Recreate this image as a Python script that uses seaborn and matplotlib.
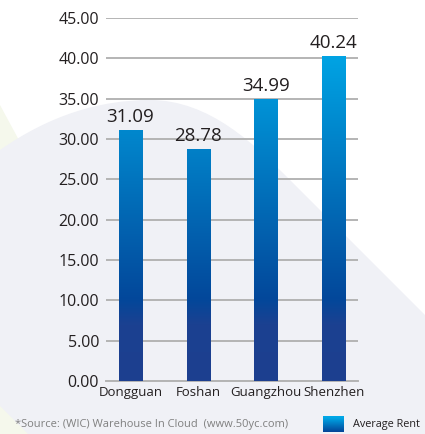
import numpy as np
import pandas as pd
import matplotlib
matplotlib.use("Agg")
import matplotlib.pyplot as plt
import seaborn as sns
from matplotlib.colors import LinearSegmentedColormap
from matplotlib.path import Path
from matplotlib.patches import PathPatch, Polygon

# Data
cities = ["Dongguan", "Foshan", "Guangzhou", "Shenzhen"]
rents = [31.09, 28.78, 34.99, 40.24]
y_ticks = [0, 5, 10, 15, 20, 25, 30, 35, 40, 45]
series_name = "Average Rent"
source_note = "*Source: (WIC) Warehouse In Cloud  (www.50yc.com)"

sns.set_theme(style="white")
plt.rcParams["font.family"] = ["Open Sans", "DejaVu Sans"]

W, H = 425, 434
fig = plt.figure(figsize=(W / 100, H / 100), dpi=100)
fig.patch.set_facecolor("white")

# Decorative background shapes, drawn in pixel space
bg = fig.add_axes([0, 0, 1, 1], zorder=-5)
bg.set_xlim(0, W)
bg.set_ylim(H, 0)
bg.axis("off")
verts = [(0, 150), (50, 115), (100, 100), (150, 100),
         (210, 100), (255, 145), (290, 180),
         (425, 315), (425, 434), (0, 434), (0, 150)]
codes = [Path.MOVETO, Path.CURVE4, Path.CURVE4, Path.CURVE4,
         Path.CURVE4, Path.CURVE4, Path.CURVE4,
         Path.LINETO, Path.LINETO, Path.LINETO, Path.CLOSEPOLY]
bg.add_patch(Polygon([(0, 105), (20, 142), (0, 165)], closed=True,
                     facecolor="#F5F8EC", edgecolor="none"))
bg.add_patch(PathPatch(Path(verts, codes), facecolor="#F0F1F6", edgecolor="none"))
bg.add_patch(Polygon([(0, 406), (28, 434), (0, 434)], closed=True,
                     facecolor="#F5F8EC", edgecolor="none"))

# Main chart
ax = fig.add_axes([106 / W, 1 - 381 / H, (358 - 106) / W, (381 - 18) / H])
ax.set_facecolor("none")
df = pd.DataFrame({"City": cities, "Rent": rents})
sns.barplot(data=df, x="City", y="Rent", width=0.34, color="#0066B2",
            ax=ax, zorder=3)

# Vertical gradient fill shared by all bars (value based)
ymax = 45.0
stops = [(0.0, "#1D3F8F"), (7 / ymax, "#1B4191"), (10 / ymax, "#03479A"),
         (40.5 / ymax, "#00A4E4"), (1.0, "#00A8E8")]
cmap = LinearSegmentedColormap.from_list("rent_grad", stops)
grad = np.linspace(0, 1, 256).reshape(-1, 1)
for patch in ax.patches:
    patch.set_facecolor("none")
    patch.set_edgecolor("none")
    x0 = patch.get_x()
    im = ax.imshow(grad, cmap=cmap, origin="lower", aspect="auto",
                   extent=[x0, x0 + patch.get_width(), 0, ymax], zorder=3)
    im.set_clip_path(patch)
ax.set_xlim(-0.36, 3.36)
ax.set_ylim(0, 45)

ax.bar_label(ax.containers[0], fmt="%.2f", padding=3, fontsize=13.5,
             color="#231F20")

ax.set_yticks(y_ticks)
ax.set_yticklabels([f"{v:.2f}" for v in y_ticks])
ax.yaxis.grid(True, color="#B4B4B4", linewidth=1.4, zorder=0)
ax.set_axisbelow(True)
for s in ["top", "right", "left"]:
    ax.spines[s].set_visible(False)
ax.spines["bottom"].set_color("#B4B4B4")
ax.spines["bottom"].set_linewidth(1.4)
ax.tick_params(axis="y", length=0, pad=5, labelsize=11.5, labelcolor="#231F20")
ax.tick_params(axis="x", length=0, pad=3.5, labelsize=9.5, labelcolor="#231F20")
ax.set_xlabel("")
ax.set_ylabel("")

# Footer: source note and legend swatch
fig.text(15 / W, 1 - 425 / H, source_note, fontsize=8, color="#808080",
         va="center", ha="left")
sw = fig.add_axes([323 / W, 1 - 432 / H, 21 / W, 16 / H])
sw.imshow(np.linspace(1, 0.2, 64).reshape(-1, 1), cmap=cmap, aspect="auto",
          vmin=0, vmax=1)
sw.axis("off")
fig.text(353 / W, 1 - 425 / H, series_name, fontsize=7.8, color="#231F20",
         va="center", ha="left")

fig.savefig("out.png", dpi=100)
